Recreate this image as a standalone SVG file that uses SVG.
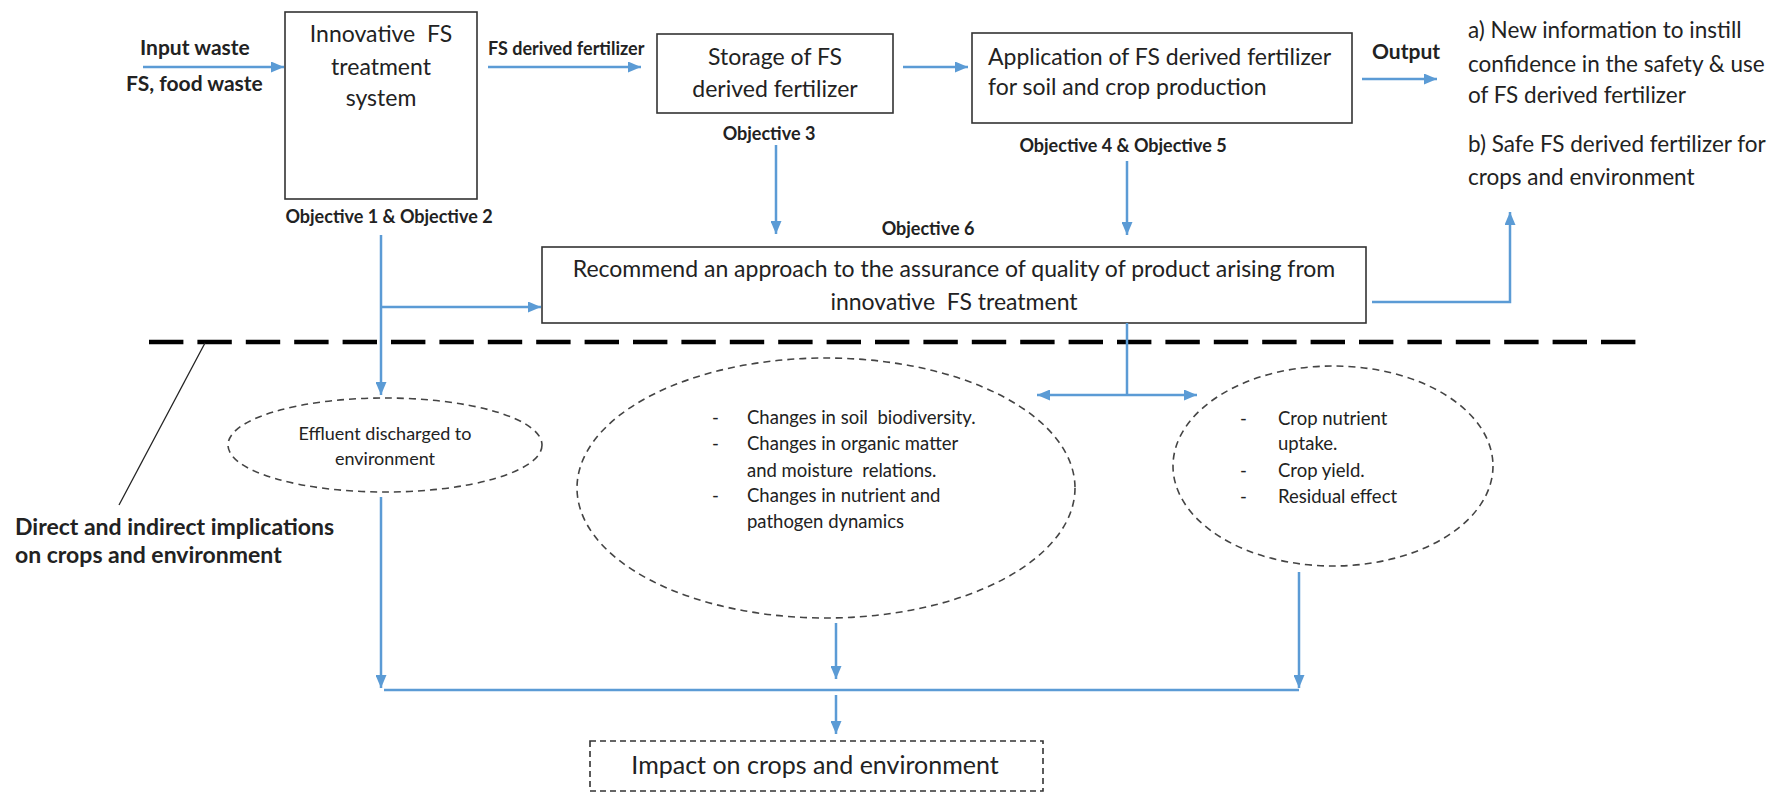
<svg xmlns="http://www.w3.org/2000/svg" width="1775" height="795" viewBox="0 0 1775 795">
  <style>
    text { font-family: Lato, "Liberation Sans", sans-serif; fill: #222; white-space: pre; }
    .box { fill: #fff; stroke: #333; stroke-width: 1.6; }
    .t { font-size: 23px; }
    .tc { font-size: 23px; text-anchor: middle; }
    .out { font-size: 22.5px; }
    .lbl { font-size: 18px; font-weight: bold; }
    .lblc { font-size: 18px; font-weight: bold; text-anchor: middle; }
    .big { font-size: 21px; font-weight: bold; }
    .sm { font-size: 18.5px; }
    .smc { font-size: 18px; text-anchor: middle; }
    .ell { fill: none; stroke: #444; stroke-width: 1.6; stroke-dasharray: 7 5; }
    .conn { fill: none; stroke: #5B9BD5; stroke-width: 2.5; }
    .arr { marker-end: url(#ah); }
  </style>
  <defs>
    <marker id="ah" markerWidth="13" markerHeight="11" refX="13" refY="5.5" orient="auto" markerUnits="userSpaceOnUse">
      <path d="M0,0 L13,5.5 L0,11 z" fill="#5B9BD5"/>
    </marker>
    <marker id="ahs" markerWidth="13" markerHeight="11" refX="0" refY="5.5" orient="auto" markerUnits="userSpaceOnUse">
      <path d="M13,0 L0,5.5 L13,11 z" fill="#5B9BD5"/>
    </marker>
  </defs>

  <rect width="1775" height="795" fill="#fff"/>

  <!-- input labels -->
  <g id="input">
    <text class="big" x="140" y="55">Input waste</text>
    <text class="big" x="126" y="91">FS, food waste</text>
  </g>

  <!-- treatment system -->
  <g id="treatment">
    <rect class="box" x="285" y="12" width="192" height="187"/>
    <text class="tc" x="381" y="42" xml:space="preserve">Innovative  FS</text>
    <text class="tc" x="381" y="75">treatment</text>
    <text class="tc" x="381" y="106">system</text>
    <text class="lblc" x="389" y="223" xml:space="preserve">Objective 1 &amp; Objective 2</text>
  </g>

  <g id="fs-label">
    <text class="lbl" x="488" y="55">FS derived fertilizer</text>
  </g>

  <!-- storage -->
  <g id="storage">
    <rect class="box" x="657" y="34" width="236" height="79"/>
    <text class="tc" x="775" y="65">Storage of FS</text>
    <text class="tc" x="775" y="97">derived fertilizer</text>
    <text class="lblc" x="769" y="140">Objective 3</text>
  </g>

  <!-- application -->
  <g id="application">
    <rect class="box" x="972" y="33" width="380" height="90"/>
    <text class="t" x="988" y="65">Application of FS derived fertilizer</text>
    <text class="t" x="988" y="95">for soil and crop production</text>
    <text class="lblc" x="1123" y="152" xml:space="preserve">Objective 4 &amp; Objective 5</text>
  </g>

  <!-- outputs -->
  <g id="output">
    <text class="big" x="1372" y="59">Output</text>
    <text class="out" x="1468" y="38">a) New information to instill</text>
    <text class="out" x="1468" y="72">confidence in the safety &amp; use</text>
    <text class="out" x="1468" y="103">of FS derived fertilizer</text>
    <text class="out" x="1468" y="152">b) Safe FS derived fertilizer for</text>
    <text class="out" x="1468" y="185">crops and environment</text>
  </g>

  <!-- quality assurance -->
  <g id="recommend">
    <text class="lblc" x="928" y="235">Objective 6</text>
    <rect class="box" x="542" y="247" width="824" height="76"/>
    <text class="tc" x="954" y="277">Recommend an approach to the assurance of quality of product arising from</text>
    <text class="tc" x="954" y="310" xml:space="preserve">innovative  FS treatment</text>
  </g>

  <!-- boundary between process and implications -->
  <g id="boundary">
    <line x1="149" y1="342" x2="1636" y2="342" stroke="#000" stroke-width="4.5" stroke-dasharray="34.4 14"/>
    <line x1="205" y1="343" x2="119" y2="505" stroke="#222" stroke-width="1.3"/>
    <text class="big" x="15" y="535" style="font-size:23px">Direct and indirect implications</text>
    <text class="big" x="15" y="563" style="font-size:23px">on crops and environment</text>
  </g>

  <g id="effluent">
    <ellipse class="ell" cx="385" cy="445" rx="157" ry="47"/>
    <text class="smc" x="385" y="440">Effluent discharged to</text>
    <text class="smc" x="385" y="465">environment</text>
  </g>

  <g id="soil">
    <ellipse class="ell" cx="826" cy="488" rx="249" ry="130"/>
    <text class="sm" x="712" y="424">-</text>
    <text class="sm" x="747" y="424" xml:space="preserve">Changes in soil  biodiversity.</text>
    <text class="sm" x="712" y="450">-</text>
    <text class="sm" x="747" y="450">Changes in organic matter</text>
    <text class="sm" x="747" y="477" xml:space="preserve">and moisture  relations.</text>
    <text class="sm" x="712" y="502">-</text>
    <text class="sm" x="747" y="502">Changes in nutrient and</text>
    <text class="sm" x="747" y="528">pathogen dynamics</text>
  </g>

  <g id="crop">
    <ellipse class="ell" cx="1333" cy="466" rx="160" ry="100"/>
    <text class="sm" x="1240" y="425">-</text>
    <text class="sm" x="1278" y="425">Crop nutrient</text>
    <text class="sm" x="1278" y="450">uptake.</text>
    <text class="sm" x="1240" y="477">-</text>
    <text class="sm" x="1278" y="477">Crop yield.</text>
    <text class="sm" x="1240" y="503">-</text>
    <text class="sm" x="1278" y="503">Residual effect</text>
  </g>

  <g id="impact">
    <rect x="590" y="741" width="453" height="50" fill="none" stroke="#333" stroke-width="1.6" stroke-dasharray="6 4"/>
    <text class="tc" x="815" y="774" style="font-size:25px">Impact on crops and environment</text>
  </g>

  <!-- connectors -->
  <g id="connectors">
    <path class="conn arr" d="M143,67 H284"/>
    <path class="conn arr" d="M488,67 H641"/>
    <path class="conn arr" d="M903,67 H968"/>
    <path class="conn arr" d="M1362,79 H1437"/>
    <path class="conn arr" d="M776,145 V234"/>
    <path class="conn arr" d="M1127,161 V235"/>
    <path class="conn arr" d="M381,235 V395"/>
    <path class="conn arr" d="M381,307 H541"/>
    <path class="conn arr" d="M1372,302 H1510 V212"/>
    <path class="conn" d="M1127,323 V395"/>
    <path class="conn" d="M1037,395 H1197" marker-start="url(#ahs)" marker-end="url(#ah)"/>
    <path class="conn arr" d="M381,497 V688"/>
    <path class="conn arr" d="M836,623 V679"/>
    <path class="conn arr" d="M1299,572 V688"/>
    <path class="conn" d="M384,690 H1299"/>
    <path class="conn arr" d="M836,695 V734"/>
  </g>
</svg>
